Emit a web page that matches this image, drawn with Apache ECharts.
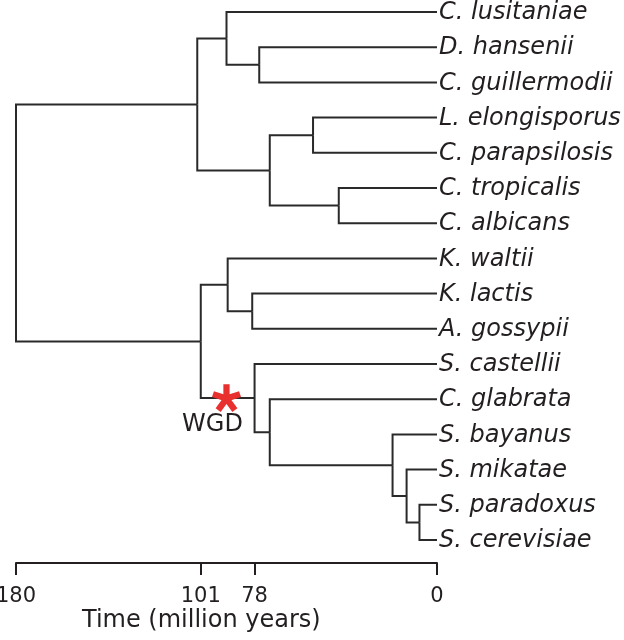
<!DOCTYPE html>
<html>
<head>
<meta charset="utf-8">
<script src="https://cdn.jsdelivr.net/npm/echarts@6/dist/echarts.min.js"></script>
<style>
  html, body { margin: 0; padding: 0; background: #fff; }
  #chart { width: 624px; height: 640px; }
</style>
</head>
<body>
<div id="chart"></div>
<script>
// leaves, top to bottom
const taxa = [
  'C. lusitaniae', 'D. hansenii', 'C. guillermodii', 'L. elongisporus',
  'C. parapsilosis', 'C. tropicalis', 'C. albicans', 'K. waltii',
  'K. lactis', 'A. gossypii', 'S. castellii', 'C. glabrata',
  'S. bayanus', 'S. mikatae', 'S. paradoxus', 'S. cerevisiae'
]
// internal nodes (age in million years)
const nodeIds = ['root', 'ctg', 'lus', 'dh', 'lodd', 'lp', 'ca', 'sacch', 'kw', 'kl', 'wgd', 'gla', 'ss', 'mik', 'sc']
const nodeAges = [180, 102.5, 90, 76, 71.5, 53, 42, 101, 89.5, 79, 78, 71.5, 19, 13, 7.5]
const nodeChildren = [
  ['ctg', 'sacch'],
  ['lus', 'lodd'],
  ['C. lusitaniae', 'dh'],
  ['D. hansenii', 'C. guillermodii'],
  ['lp', 'ca'],
  ['L. elongisporus', 'C. parapsilosis'],
  ['C. tropicalis', 'C. albicans'],
  ['kw', 'wgd'],
  ['K. waltii', 'kl'],
  ['K. lactis', 'A. gossypii'],
  ['S. castellii', 'gla'],
  ['C. glabrata', 'ss'],
  ['S. bayanus', 'mik'],
  ['S. mikatae', 'sc'],
  ['S. paradoxus', 'S. cerevisiae']
]
const axisTicks = [180, 101, 78, 0]
const wgdAge = 90 // position of the duplication mark on the branch into 'wgd'

const textColor = '#231f20'
const font = 'DejaVu Sans'

// node positions: leaves at their row, inner nodes midway between first and last child
const pos = {}
taxa.forEach((t, i) => { pos[t] = { age: 0, y: i } })
function place(id) {
  if (pos[id]) return pos[id]
  const k = nodeIds.indexOf(id)
  const kids = nodeChildren[k].map(place)
  pos[id] = { age: nodeAges[k], y: (kids[0].y + kids[kids.length - 1].y) / 2 }
  return pos[id]
}
place('root')

const edges = []
nodeIds.forEach((id, k) => {
  const p = pos[id]
  nodeChildren[k].forEach(c => {
    const q = pos[c]
    edges.push({ coords: [[p.age, p.y], [p.age, q.y], [q.age, q.y]] })
  })
})

// five-armed asterisk path
function asteriskPath() {
  const L = 50, w = 22, cx = 50, cy = 50
  let d = ''
  for (let k = 0; k < 5; k++) {
    const a = k * 72 * Math.PI / 180
    const dx = Math.sin(a), dy = -Math.cos(a)
    const nx = Math.cos(a), ny = Math.sin(a)
    const pts = [
      [cx - nx * w / 2, cy - ny * w / 2],
      [cx + nx * w / 2, cy + ny * w / 2],
      [cx + nx * w / 2 + dx * L, cy + ny * w / 2 + dy * L],
      [cx - nx * w / 2 + dx * L, cy - ny * w / 2 + dy * L]
    ]
    d += 'M' + pts.map(p => p[0].toFixed(2) + ' ' + p[1].toFixed(2)).join('L') + 'Z'
  }
  return 'path://' + d
}

const chart = echarts.init(document.getElementById('chart'))
chart.setOption({
  animation: false,
  title: {
    text: 'Time (million years)',
    left: 82,
    top: 609,
    padding: 0,
    textStyle: { fontFamily: font, fontSize: 24, fontWeight: 'normal', color: textColor }
  },
  grid: { left: 16, right: 187, top: 12, bottom: 100, outerBoundsMode: 'none', containLabel: false },
  xAxis: {
    type: 'value',
    min: 0,
    max: 180,
    inverse: true,
    position: 'bottom',
    offset: 23,
    splitLine: { show: false },
    axisLine: { show: true, onZero: false, lineStyle: { color: textColor, width: 2 } },
    axisTick: { show: true, customValues: axisTicks, length: 12, lineStyle: { color: textColor, width: 2 } },
    axisLabel: {
      customValues: axisTicks,
      margin: 23,
      fontFamily: font,
      fontSize: 21,
      color: textColor
    }
  },
  yAxis: {
    type: 'value',
    min: 0,
    max: taxa.length - 1,
    inverse: true,
    show: false
  },
  series: [
    {
      type: 'lines',
      coordinateSystem: 'cartesian2d',
      polyline: true,
      silent: true,
      lineStyle: { color: '#2a2a2a', width: 2, opacity: 1, cap: 'butt', join: 'miter' },
      data: edges
    },
    {
      type: 'scatter',
      silent: true,
      symbolSize: 0,
      itemStyle: { opacity: 1 },
      data: taxa.map((t, i) => ({ name: t, value: [0, i] })),
      label: {
        show: true,
        position: 'right',
        distance: 2,
        offset: [0, 1],
        formatter: '{b}',
        fontFamily: font,
        fontStyle: 'italic',
        fontSize: 24,
        color: textColor
      }
    },
    {
      type: 'scatter',
      silent: true,
      symbol: asteriskPath(),
      symbolKeepAspect: true,
      symbolSize: 29,
      itemStyle: { color: '#e8312f', opacity: 1 },
      data: [{ name: 'WGD', value: [wgdAge, pos.wgd.y] }],
      label: {
        show: true,
        position: 'inside',
        offset: [-14, 27],
        formatter: '{b}',
        fontFamily: font,
        fontSize: 24,
        color: textColor
      },
      z: 5
    }
  ]
})
</script>
</body>
</html>
